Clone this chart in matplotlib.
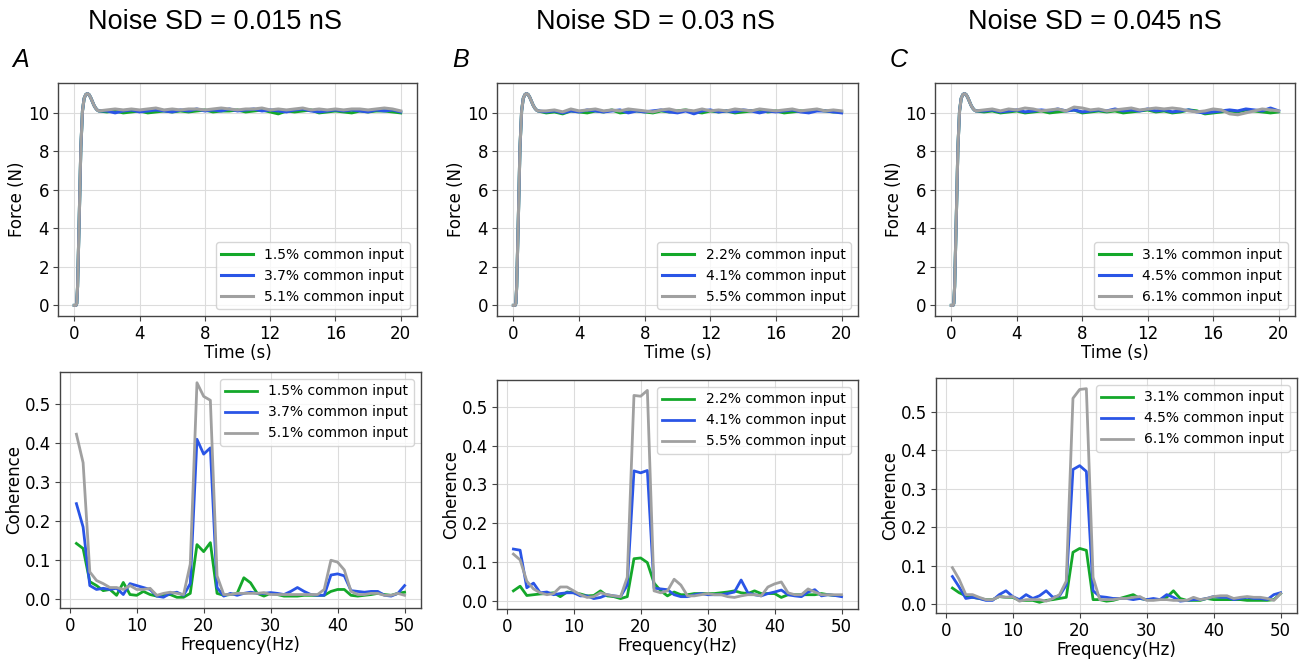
import numpy as np
import matplotlib.pyplot as plt

# общие данные
titles = ['Noise SD = 0.015 nS', 'Noise SD = 0.03 nS', 'Noise SD = 0.045 nS']
letters = ['A', 'B', 'C']
labels = [
    ['1.5% common input', '3.7% common input', '5.1% common input'],
    ['2.2% common input', '4.1% common input', '5.5% common input'],
    ['3.1% common input', '4.5% common input', '6.1% common input'],
]
colors = ['#14a82a', '#2a55e6', '#a0a0a0']

# Сила: общий подъём + плато (шаг 0.5 с)
rise_t = [0.0, 0.1, 0.15, 0.2, 0.3, 0.4, 0.5, 0.6, 0.7, 0.8, 0.9, 1.0, 1.1, 1.2, 1.3, 1.4, 1.5]
rise_f = [0.0, 0.0, 0.1, 1.0, 4.5, 8.2, 10.1, 10.75, 10.95, 11.0, 10.95, 10.8, 10.6, 10.4, 10.25, 10.15, 10.1]
plateau_t = [2.0 + 0.5 * i for i in range(37)]

force_a = [
    [10.05, 10.1, 10.0, 10.05, 10.1, 10.0, 10.05, 10.1, 10.05, 10.1, 10.05, 10.1, 10.15, 10.05, 10.1, 10.1, 10.15, 10.05, 10.1,
     10.15, 10.05, 9.95, 10.1, 10.05, 10.1, 10.15, 10.0, 10.05, 10.1, 10.05, 10.0, 10.1, 10.05, 10.1, 10.1, 10.05, 10.0],
    [10.1, 10.0, 10.1, 10.15, 10.05, 10.1, 10.15, 10.1, 10.05, 10.15, 10.1, 10.2, 10.1, 10.15, 10.1, 10.2, 10.1, 10.15, 10.2,
     10.1, 10.15, 10.1, 10.05, 10.15, 10.2, 10.1, 10.05, 10.1, 10.15, 10.1, 10.15, 10.1, 10.05, 10.15, 10.1, 10.15, 10.05],
    [10.15, 10.2, 10.15, 10.2, 10.15, 10.2, 10.25, 10.15, 10.2, 10.15, 10.2, 10.2, 10.15, 10.2, 10.25, 10.2, 10.15, 10.2, 10.2,
     10.25, 10.15, 10.2, 10.15, 10.2, 10.25, 10.15, 10.2, 10.15, 10.2, 10.15, 10.2, 10.2, 10.15, 10.2, 10.25, 10.2, 10.1],
]
force_b = [
    [10.0, 10.05, 9.95, 10.1, 10.05, 10.0, 10.1, 10.05, 10.15, 10.0, 10.05, 10.1, 10.05, 10.0, 10.1, 10.05, 10.1, 10.15, 10.05,
     10.0, 10.1, 10.05, 10.1, 10.0, 10.05, 10.1, 10.15, 10.05, 10.1, 10.0, 10.05, 10.1, 10.05, 10.15, 10.1, 10.05, 10.05],
    [10.05, 10.1, 10.0, 10.1, 10.05, 10.15, 10.1, 10.05, 10.1, 10.15, 10.0, 10.1, 10.05, 10.1, 10.15, 10.05, 10.0, 10.1, 9.95,
     10.1, 10.15, 10.05, 10.1, 10.05, 10.15, 10.1, 10.0, 10.1, 10.05, 10.1, 10.15, 10.05, 10.0, 10.1, 10.1, 10.05, 10.0],
    [10.1, 10.15, 10.05, 10.2, 10.1, 10.15, 10.2, 10.1, 10.15, 10.1, 10.2, 10.15, 10.1, 10.05, 10.15, 10.2, 10.1, 10.15, 10.1,
     10.2, 10.1, 10.15, 10.1, 10.2, 10.15, 10.1, 10.2, 10.15, 10.1, 10.15, 10.2, 10.1, 10.15, 10.2, 10.1, 10.15, 10.1],
]
force_c = [
    [10.05, 10.1, 10.0, 10.05, 10.1, 10.0, 10.05, 10.1, 10.0, 10.05, 10.1, 10.15, 10.0, 10.05, 10.1, 10.05, 10.1, 10.0, 10.05,
     10.1, 10.15, 10.05, 10.1, 10.0, 10.05, 10.15, 10.1, 9.95, 10.0, 10.05, 10.1, 10.05, 10.15, 10.1, 10.05, 10.0, 10.05],
    [10.1, 10.15, 10.05, 10.1, 10.15, 10.05, 10.1, 10.15, 10.1, 10.2, 10.1, 10.15, 10.05, 10.1, 10.15, 10.1, 10.2, 10.1, 10.15,
     10.1, 10.2, 10.1, 10.15, 10.05, 10.1, 10.15, 10.05, 10.0, 10.05, 10.1, 10.15, 10.1, 10.2, 10.15, 10.1, 10.25, 10.1],
    [10.15, 10.2, 10.1, 10.2, 10.15, 10.25, 10.2, 10.1, 10.15, 10.2, 10.1, 10.3, 10.25, 10.15, 10.2, 10.1, 10.15, 10.2, 10.25,
     10.15, 10.2, 10.25, 10.2, 10.25, 10.2, 10.1, 10.05, 10.1, 10.2, 10.15, 9.95, 9.9, 10.0, 10.1, 10.2, 10.15, 10.1],
]
forces = [force_a, force_b, force_c]

# Когерентность, 1..50 Гц
freqs = list(range(1, 51))
coh_a = [
    [0.143, 0.13, 0.045, 0.035, 0.022, 0.025, 0.01, 0.043, 0.012, 0.01, 0.02, 0.012, 0.008, 0.01, 0.012, 0.005, 0.005, 0.015,
     0.14, 0.122, 0.145, 0.015, 0.01, 0.012, 0.015, 0.055, 0.042, 0.015, 0.008, 0.015, 0.012, 0.008, 0.008, 0.008, 0.01, 0.01,
     0.01, 0.01, 0.02, 0.025, 0.025, 0.01, 0.008, 0.01, 0.012, 0.015, 0.012, 0.01, 0.015, 0.018],
    [0.245, 0.185, 0.035, 0.025, 0.028, 0.025, 0.028, 0.012, 0.04, 0.035, 0.03, 0.025, 0.008, 0.005, 0.015, 0.018, 0.01, 0.04,
     0.41, 0.372, 0.388, 0.03, 0.008, 0.015, 0.01, 0.015, 0.018, 0.015, 0.015, 0.017, 0.015, 0.012, 0.02, 0.03, 0.02, 0.012,
     0.01, 0.01, 0.062, 0.065, 0.06, 0.022, 0.02, 0.018, 0.02, 0.02, 0.01, 0.008, 0.015, 0.035],
    [0.423, 0.35, 0.07, 0.048, 0.04, 0.03, 0.03, 0.025, 0.035, 0.025, 0.025, 0.028, 0.01, 0.015, 0.018, 0.015, 0.012, 0.09,
     0.555, 0.52, 0.51, 0.06, 0.012, 0.012, 0.015, 0.015, 0.015, 0.015, 0.017, 0.012, 0.012, 0.012, 0.012, 0.012, 0.012, 0.012,
     0.012, 0.025, 0.1, 0.095, 0.075, 0.02, 0.012, 0.012, 0.015, 0.015, 0.01, 0.01, 0.015, 0.01],
]
coh_b = [
    [0.025, 0.037, 0.013, 0.015, 0.017, 0.018, 0.02, 0.01, 0.022, 0.02, 0.017, 0.012, 0.013, 0.025, 0.012, 0.01, 0.005, 0.01,
     0.108, 0.11, 0.098, 0.045, 0.025, 0.012, 0.022, 0.015, 0.015, 0.018, 0.018, 0.018, 0.018, 0.02, 0.022, 0.025, 0.02, 0.018,
     0.025, 0.018, 0.018, 0.018, 0.008, 0.015, 0.015, 0.015, 0.015, 0.015, 0.018, 0.015, 0.013, 0.013],
    [0.133, 0.13, 0.033, 0.045, 0.02, 0.022, 0.015, 0.018, 0.02, 0.02, 0.012, 0.012, 0.005, 0.008, 0.015, 0.012, 0.01, 0.04,
     0.335, 0.33, 0.336, 0.032, 0.03, 0.028, 0.015, 0.01, 0.01, 0.015, 0.018, 0.015, 0.015, 0.015, 0.018, 0.022, 0.053, 0.02,
     0.015, 0.012, 0.018, 0.022, 0.027, 0.015, 0.012, 0.01, 0.022, 0.028, 0.012, 0.015, 0.013, 0.01],
    [0.12, 0.105, 0.05, 0.03, 0.02, 0.015, 0.018, 0.035, 0.035, 0.025, 0.015, 0.008, 0.01, 0.02, 0.015, 0.012, 0.01, 0.06,
     0.53, 0.528, 0.543, 0.025, 0.02, 0.025, 0.055, 0.04, 0.012, 0.012, 0.015, 0.018, 0.015, 0.015, 0.01, 0.008, 0.012, 0.015,
     0.015, 0.012, 0.035, 0.043, 0.048, 0.02, 0.015, 0.015, 0.03, 0.022, 0.015, 0.015, 0.015, 0.015],
]
coh_c = [
    [0.042, 0.03, 0.022, 0.018, 0.015, 0.012, 0.012, 0.02, 0.018, 0.018, 0.01, 0.01, 0.01, 0.005, 0.01, 0.012, 0.015, 0.018,
     0.135, 0.145, 0.14, 0.012, 0.012, 0.008, 0.01, 0.015, 0.02, 0.025, 0.015, 0.012, 0.012, 0.012, 0.018, 0.035, 0.015, 0.01,
     0.01, 0.01, 0.015, 0.012, 0.012, 0.012, 0.012, 0.012, 0.01, 0.01, 0.01, 0.01, 0.012, 0.028],
    [0.072, 0.045, 0.015, 0.018, 0.015, 0.01, 0.01, 0.025, 0.035, 0.02, 0.012, 0.025, 0.015, 0.022, 0.035, 0.018, 0.022, 0.05,
     0.35, 0.36, 0.345, 0.035, 0.02, 0.018, 0.015, 0.015, 0.015, 0.012, 0.015, 0.012, 0.015, 0.012, 0.025, 0.018, 0.008, 0.01,
     0.012, 0.012, 0.015, 0.02, 0.018, 0.018, 0.012, 0.015, 0.018, 0.015, 0.015, 0.012, 0.025, 0.03],
    [0.095, 0.065, 0.025, 0.025, 0.018, 0.012, 0.012, 0.02, 0.018, 0.02, 0.008, 0.012, 0.012, 0.012, 0.008, 0.015, 0.025, 0.06,
     0.535, 0.558, 0.56, 0.07, 0.012, 0.012, 0.012, 0.015, 0.015, 0.018, 0.02, 0.01, 0.01, 0.012, 0.012, 0.01, 0.01, 0.01,
     0.018, 0.012, 0.015, 0.02, 0.022, 0.022, 0.015, 0.018, 0.02, 0.018, 0.018, 0.015, 0.01, 0.028],
]
cohs = [coh_a, coh_b, coh_c]

W, H = 1301, 659
fig = plt.figure(figsize=(W / 100, H / 100), dpi=100)


def px_axes(left, top, right, bottom):
    return fig.add_axes([left / W, 1 - bottom / H, (right - left) / W, (bottom - top) / H])


top_boxes = [(58, 83, 417, 316), (497, 83, 858, 316), (935, 83, 1295, 316)]
bot_boxes = [(60, 372, 421, 608), (497, 380, 858, 609), (936, 378, 1297, 613)]
title_x = [215, 655, 1095]
letter_x = [12, 452, 890]


def style(ax):
    ax.grid(True, color='#dcdcdc', linewidth=0.8)
    ax.set_axisbelow(True)
    for s in ax.spines.values():
        s.set_color('#444444')
        s.set_linewidth(1.0)
    ax.tick_params(labelsize=12, color='#444444', pad=3)


for i in range(3):
    ax = px_axes(*top_boxes[i])
    for j in range(3):
        t = rise_t + plateau_t
        f = rise_f + forces[i][j]
        ax.plot(t, f, color=colors[j], lw=2.2, label=labels[i][j])
    ax.set_xticks([0, 4, 8, 12, 16, 20])
    ax.set_yticks([0, 2, 4, 6, 8, 10])
    ax.set_xlabel('Time (s)', fontsize=12, labelpad=1)
    ax.set_ylabel('Force (N)', fontsize=12, labelpad=1)
    style(ax)
    ax.legend(loc='lower right', fontsize=10, handlelength=2.3)

    ax2 = px_axes(*bot_boxes[i])
    for j in range(3):
        ax2.plot(freqs, cohs[i][j], color=colors[j], lw=2, label=labels[i][j])
    ax2.set_xticks([0, 10, 20, 30, 40, 50])
    ax2.set_xlabel('Frequency(Hz)', fontsize=12, labelpad=1)
    ax2.set_ylabel('Coherence', fontsize=12, labelpad=1)
    style(ax2)
    ax2.legend(loc='upper right', fontsize=10, handlelength=2.3)

    fig.text(title_x[i] / W, 1 - 22 / H, titles[i], fontsize=19.5, family='Liberation Sans',
             ha='center', va='center')
    fig.text(letter_x[i] / W, 1 - 60 / H, letters[i], fontsize=18, family='Liberation Sans',
             style='italic', ha='left', va='center')

fig.savefig('out.png', dpi=100)
